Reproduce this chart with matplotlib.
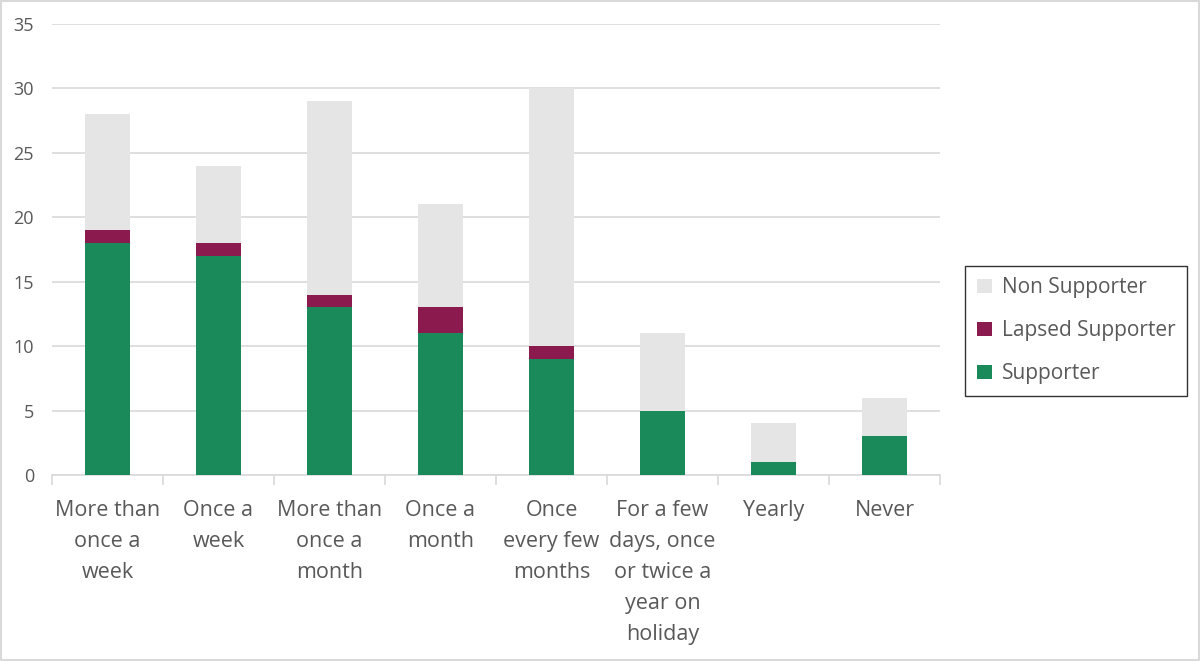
import matplotlib
matplotlib.use('Agg')
import matplotlib.pyplot as plt
import numpy as np

plt.rcParams['font.family'] = ['Open Sans', 'DejaVu Sans']

categories = ['More than\nonce a\nweek', 'Once a\nweek', 'More than\nonce a\nmonth', 'Once a\nmonth',
              'Once\nevery few\nmonths', 'For a few\ndays, once\nor twice a\nyear on\nholiday', 'Yearly', 'Never']
supporter = [18, 17, 13, 11, 9, 5, 1, 3]
lapsed = [1, 1, 1, 2, 1, 0, 0, 0]
non_supporter = [9, 6, 15, 8, 20, 6, 3, 3]

green = '#1B8A5A'
maroon = '#8B1A4F'
grey = '#E5E5E5'
text_col = '#595959'

fig = plt.figure(figsize=(12, 6.61), dpi=100)
ax = fig.add_axes([0.0433, 0.2814, 0.7400, 0.6823])

x = np.arange(len(categories))
sup = np.array(supporter)
lap = np.array(lapsed)
non = np.array(non_supporter)
w = 0.4
b1 = ax.bar(x, sup, w, color=green, label='Supporter', zorder=3)
b2 = ax.bar(x, lap, w, bottom=sup, color=maroon, label='Lapsed Supporter', zorder=3)
b3 = ax.bar(x, non, w, bottom=sup + lap, color=grey, label='Non Supporter', zorder=3)

ax.set_xlim(-0.5, len(categories) - 0.5)
ax.set_ylim(0, 35)
ax.set_yticks(np.arange(0, 36, 5))
ax.yaxis.grid(True, color='#D9D9D9', linewidth=1.2, zorder=0)
for s in ['top', 'right', 'left']:
    ax.spines[s].set_visible(False)
ax.spines['bottom'].set_color('#D9D9D9')
ax.spines['bottom'].set_linewidth(1.2)

ax.set_xticks(x)
ax.set_xticklabels(categories, fontsize=15.5, color=text_col, linespacing=1.62, va='top')
ax.tick_params(axis='x', length=0, pad=18)
ax.set_xticks(np.arange(-0.5, len(categories), 1), minor=True)
ax.tick_params(axis='x', which='minor', length=7, color='#D9D9D9', width=1.2)
ax.tick_params(axis='y', length=0, labelsize=13, labelcolor=text_col, pad=13)

leg = ax.legend(handles=[b3, b2, b1], loc='center left', bbox_to_anchor=(1.017, 0.32),
                fontsize=15, frameon=True, fancybox=False, handlelength=0.7, handleheight=0.7,
                labelspacing=1.06, handletextpad=0.5, borderpad=0.55)
leg.get_frame().set_edgecolor('black')
leg.get_frame().set_linewidth(1.0)
for t in leg.get_texts():
    t.set_color(text_col)

fig.patches.append(plt.Rectangle((0.001, 0.001), 0.998, 0.998, transform=fig.transFigure,
                                 fill=False, edgecolor='#D9D9D9', linewidth=1.5))

fig.savefig('out.png', dpi=100)
